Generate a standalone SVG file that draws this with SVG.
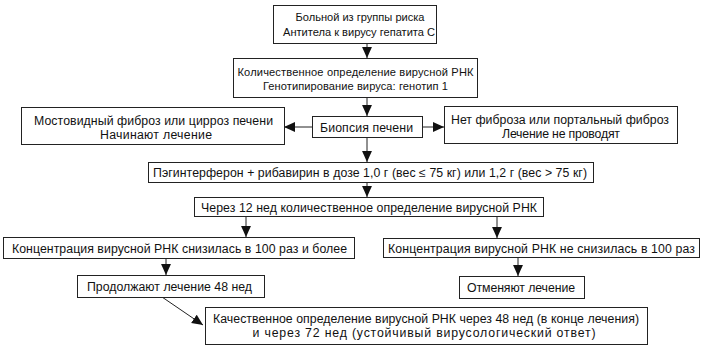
<svg xmlns="http://www.w3.org/2000/svg" width="705" height="352" viewBox="0 0 705 352">
<style>
.box rect{fill:#fff;stroke:#222;stroke-width:1}
text{font-family:"Liberation Sans",Arial,sans-serif;font-size:12.3px;fill:#111;text-anchor:middle}
.sm{font-size:11.1px}
.con line{stroke:#222;stroke-width:1;marker-end:url(#ah)}
</style>
<defs>
<marker id="ah" viewBox="0 0 10 10" refX="10" refY="5" markerWidth="11" markerHeight="11" markerUnits="userSpaceOnUse" orient="auto">
<path d="M0,0.5 L10,5 L0,9.5 Z" fill="#111"/>
</marker>
</defs>
<rect width="705" height="352" fill="#fff"/>
<g class="con">
<line x1="367" y1="43" x2="367" y2="58"/>
<line x1="367" y1="97" x2="367" y2="116"/>
<line x1="312" y1="127" x2="284" y2="127"/>
<line x1="422" y1="127" x2="444" y2="127"/>
<line x1="367" y1="137" x2="367" y2="162"/>
<line x1="367" y1="182" x2="367" y2="197"/>
<line x1="246" y1="216" x2="246" y2="237"/>
<line x1="497" y1="216" x2="497" y2="238"/>
<line x1="166" y1="258" x2="166" y2="275"/>
<line x1="518" y1="257" x2="518" y2="276"/>
<line x1="162" y1="297" x2="203" y2="325"/>
</g>
<g id="n1" class="box"><rect x="273.5" y="5.5" width="163" height="38"/>
<text class="sm" x="360" y="21" textLength="129" lengthAdjust="spacing">Больной из группы риска</text><text class="sm" x="359" y="35.5" textLength="152" lengthAdjust="spacing">Антитела к вирусу гепатита С</text></g>
<g id="n2" class="box"><rect x="233.5" y="58.5" width="244" height="39"/>
<text class="sm" x="355.5" y="76" textLength="236" lengthAdjust="spacing">Количественное определение вирусной РНК</text><text class="sm" x="355.5" y="89.5" textLength="185" lengthAdjust="spacing">Генотипирование вируса: генотип 1</text></g>
<g id="n3" class="box"><rect x="312.5" y="116.5" width="110" height="21"/>
<text x="366.5" y="131.5" textLength="93" lengthAdjust="spacing">Биопсия печени</text></g>
<g id="n4" class="box"><rect x="21.5" y="107.5" width="263" height="37"/>
<text x="153.5" y="124.5" textLength="239" lengthAdjust="spacing">Мостовидный фиброз или цирроз печени</text><text x="156" y="138.5" textLength="112" lengthAdjust="spacing">Начинают лечение</text></g>
<g id="n5" class="box"><rect x="444.5" y="106.5" width="233" height="37"/>
<text x="560" y="123.5" textLength="218" lengthAdjust="spacing">Нет фиброза или портальный фиброз</text><text x="561" y="137.5" textLength="118" lengthAdjust="spacing">Лечение не проводят</text></g>
<g id="n6" class="box"><rect x="148.5" y="162.5" width="445" height="20"/>
<text x="370" y="177" textLength="434" lengthAdjust="spacing">Пэгинтерферон + рибавирин в дозе 1,0 г (вес ≤ 75 кг) или 1,2 г (вес &gt; 75 кг)</text></g>
<g id="n7" class="box"><rect x="194.5" y="197.5" width="349" height="19"/>
<text x="369" y="211.5" textLength="336" lengthAdjust="spacing">Через 12 нед количественное определение вирусной РНК</text></g>
<g id="n8" class="box"><rect x="3.5" y="237.5" width="351" height="21"/>
<text x="179.5" y="252.5" textLength="335" lengthAdjust="spacing">Концентрация вирусной РНК снизилась в 100 раз и более</text></g>
<g id="n9" class="box"><rect x="383.5" y="238.5" width="316" height="19"/>
<text x="541.5" y="252.5" textLength="307" lengthAdjust="spacing">Концентрация вирусной РНК не снизилась в 100 раз</text></g>
<g id="n10" class="box"><rect x="77.5" y="275.5" width="187" height="22"/>
<text x="169.5" y="291" textLength="165" lengthAdjust="spacing">Продолжают лечение 48 нед</text></g>
<g id="n11" class="box"><rect x="459.5" y="276.5" width="125" height="22"/>
<text x="521" y="292" textLength="108" lengthAdjust="spacing">Отменяют лечение</text></g>
<g id="n12" class="box"><rect x="205.5" y="307.5" width="442" height="37"/>
<text x="426" y="322.5" textLength="426" lengthAdjust="spacing">Качественное определение вирусной РНК через 48 нед (в конце лечения)</text><text x="424" y="336.5" textLength="343" lengthAdjust="spacing">и через 72 нед (устойчивый вирусологический ответ)</text></g>
</svg>
